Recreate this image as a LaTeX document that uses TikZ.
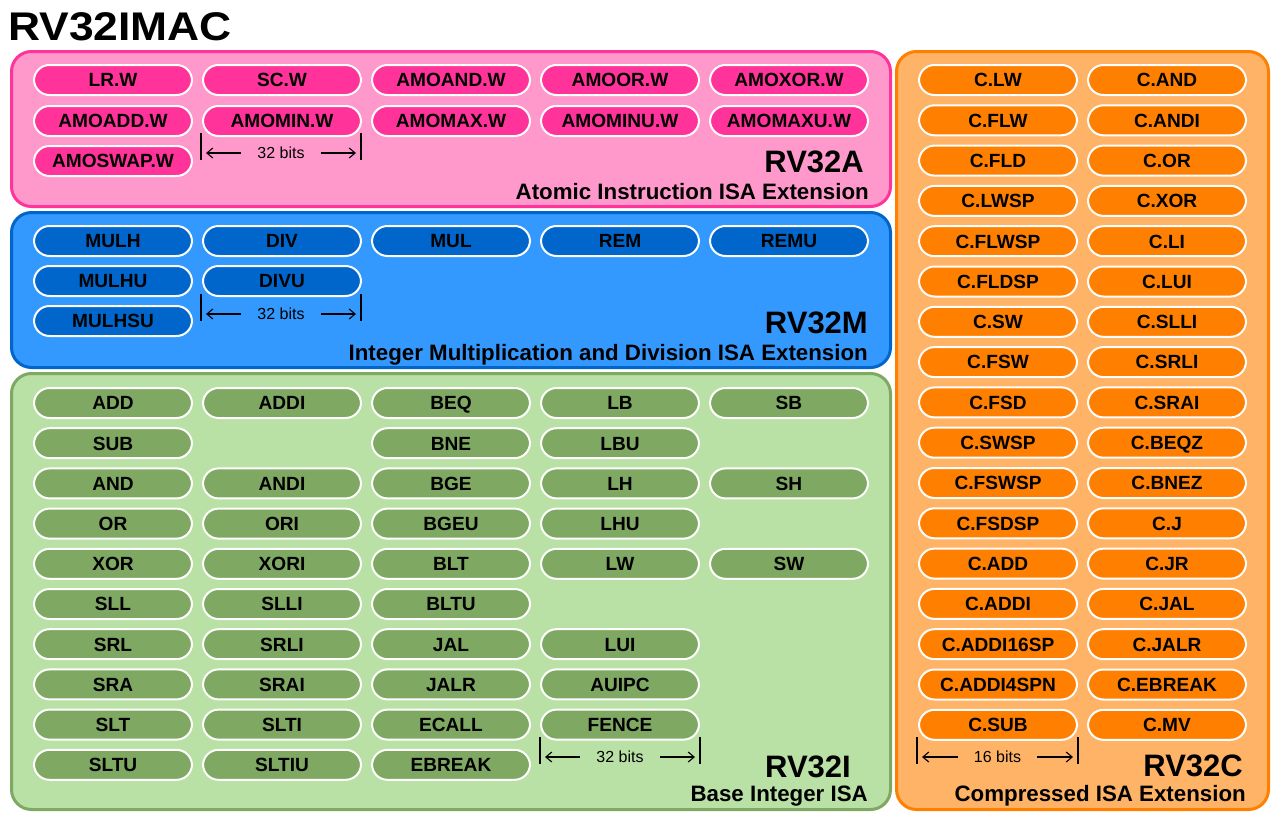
\documentclass[tikz,border=0pt]{standalone}
\usepackage{fontspec}
\setmainfont{Liberation Sans}
\usetikzlibrary{arrows.meta}
\definecolor{pinkfill}{HTML}{FF99CC}
\definecolor{pinkline}{HTML}{FF3399}
\definecolor{bluefill}{HTML}{3399FF}
\definecolor{blueline}{HTML}{0066CC}
\definecolor{greenfill}{HTML}{B9E0A5}
\definecolor{greenline}{HTML}{7FA862}
\definecolor{orangefill}{HTML}{FFB366}
\definecolor{orangeline}{HTML}{FF8000}
% width marker below a pill column
\newcommand{\bitsmark}[5]{%
  \coordinate (#1-l) at (#2,#4);
  \coordinate (#1-r) at (#3,#4);
  \draw[bitbar] (#2,#4-20) -- (#2,#4+7);
  \draw[bitbar] (#3,#4-20) -- (#3,#4+7);
  \node[bitlabel] (#1) at ({(#2+#3)/2},#4) {#5};
  \draw[bitarrow] (#1.west) -- (#1-l);
  \draw[bitarrow] (#1.east) -- (#1-r);
}

\begin{document}
\begin{tikzpicture}[x=1pt,y=-1pt,every node/.style={inner sep=0pt},
  isabox/.style={rectangle,rounded corners=20pt,line width=3pt},
  pill/.style={rectangle,draw=white,line width=2pt,rounded corners=15.5pt,
    minimum width=158pt,minimum height=30pt,text height=13.6pt,text depth=0pt,
    font=\fontsize{19.1}{19.1}\selectfont\bfseries},
  isaname/.style={font=\fontsize{31}{31}\selectfont\bfseries},
  isadesc/.style={font=\fontsize{22.3}{22.3}\selectfont\bfseries},
  bitbar/.style={line width=1.2pt},
  bitlabel/.style={font=\fontsize{16}{16}\selectfont,inner xsep=16pt},
  bitarrow/.style={line width=1.1pt,-{Straight Barb[length=6pt,width=10pt]},shorten >=5pt}]
\useasboundingbox (0,0) rectangle (1280,822);

\node[anchor=base west] (title) at (8,40) {\scalebox{1.11}[1]{\fontsize{40}{40}\selectfont\bfseries RV32IMAC}};

% the four extension boxes
\node[isabox,fill=pinkfill,draw=pinkline,minimum width=879pt,minimum height=155pt] (rv32a) at (451,129) {};
\node[isabox,fill=bluefill,draw=blueline,minimum width=879pt,minimum height=155pt] (rv32m) at (451,290) {};
\node[isabox,fill=greenfill,draw=greenline,minimum width=879pt,minimum height=436pt] (rv32i) at (451,591.5) {};
\node[isabox,fill=orangefill,draw=orangeline,minimum width=372pt,minimum height=758pt] (rv32c) at (1082.5,430.5) {};

% RV32A
\foreach \txt [count=\c] in {LR.W,SC.W,AMOAND.W,AMOOR.W,AMOXOR.W}
  \node[pill,fill=pinkline] (a1-\c) at ({113+169*(\c-1)},80) {\txt};
\foreach \txt [count=\c] in {AMOADD.W,AMOMIN.W,AMOMAX.W,AMOMINU.W,AMOMAXU.W}
  \node[pill,fill=pinkline] (a2-\c) at ({113+169*(\c-1)},121) {\txt};
\node[pill,fill=pinkline] (a3-1) at (113,161) {AMOSWAP.W};
\bitsmark{abits}{201}{361}{153}{32 bits}
\node[isaname,anchor=base east] (a-name) at (864,172) {RV32A};
\node[isadesc,anchor=base east] (a-desc) at (869,199) {Atomic Instruction ISA Extension};

% RV32M
\foreach \txt [count=\c] in {MULH,DIV,MUL,REM,REMU}
  \node[pill,fill=blueline] (m1-\c) at ({113+169*(\c-1)},241) {\txt};
\foreach \txt [count=\c] in {MULHU,DIVU}
  \node[pill,fill=blueline] (m2-\c) at ({113+169*(\c-1)},281) {\txt};
\node[pill,fill=blueline] (m3-1) at (113,321) {MULHSU};
\bitsmark{mbits}{201}{361}{314}{32 bits}
\node[isaname,anchor=base east] (m-name) at (868,333) {RV32M};
\node[isadesc,anchor=base east] (m-desc) at (868,360) {Integer Multiplication and Division ISA Extension};

% RV32I
\foreach \txt [count=\r] in {ADD,SUB,AND,OR,XOR,SLL,SRL,SRA,SLT,SLTU}
  \node[pill,fill=greenline] (i1-\r) at (113,{403+40.2*(\r-1)}) {\txt};
\foreach \txt/\r in {ADDI/1,ANDI/3,ORI/4,XORI/5,SLLI/6,SRLI/7,SRAI/8,SLTI/9,SLTIU/10}
  \node[pill,fill=greenline] (i2-\r) at (282,{403+40.2*(\r-1)}) {\txt};
\foreach \txt [count=\r] in {BEQ,BNE,BGE,BGEU,BLT,BLTU,JAL,JALR,ECALL,EBREAK}
  \node[pill,fill=greenline] (i3-\r) at (451,{403+40.2*(\r-1)}) {\txt};
\foreach \txt/\r in {LB/1,LBU/2,LH/3,LHU/4,LW/5,LUI/7,AUIPC/8,FENCE/9}
  \node[pill,fill=greenline] (i4-\r) at (620,{403+40.2*(\r-1)}) {\txt};
\foreach \txt/\r in {SB/1,SH/3,SW/5}
  \node[pill,fill=greenline] (i5-\r) at (789,{403+40.2*(\r-1)}) {\txt};
\bitsmark{ibits}{540}{700}{757}{32 bits}
\node[isaname,anchor=base east] (i-name) at (851,777) {RV32I};
\node[isadesc,anchor=base east] (i-desc) at (868,801) {Base Integer ISA};

% RV32C
\foreach \txt [count=\r] in {C.LW,C.FLW,C.FLD,C.LWSP,C.FLWSP,C.FLDSP,C.SW,C.FSW,C.FSD,
    C.SWSP,C.FSWSP,C.FSDSP,C.ADD,C.ADDI,C.ADDI16SP,C.ADDI4SPN,C.SUB}
  \node[pill,fill=orangeline] (c1-\r) at (998,{80+40.3*(\r-1)}) {\txt};
\foreach \txt [count=\r] in {C.AND,C.ANDI,C.OR,C.XOR,C.LI,C.LUI,C.SLLI,C.SRLI,C.SRAI,
    C.BEQZ,C.BNEZ,C.J,C.JR,C.JAL,C.JALR,C.EBREAK,C.MV}
  \node[pill,fill=orangeline] (c2-\r) at (1167,{80+40.3*(\r-1)}) {\txt};
\bitsmark{cbits}{917}{1078}{757}{16 bits}
\node[isaname,anchor=base east] (c-name) at (1243,776) {RV32C};
\node[isadesc,anchor=base east] (c-desc) at (1246,801) {Compressed ISA Extension};
\end{tikzpicture}
\end{document}
